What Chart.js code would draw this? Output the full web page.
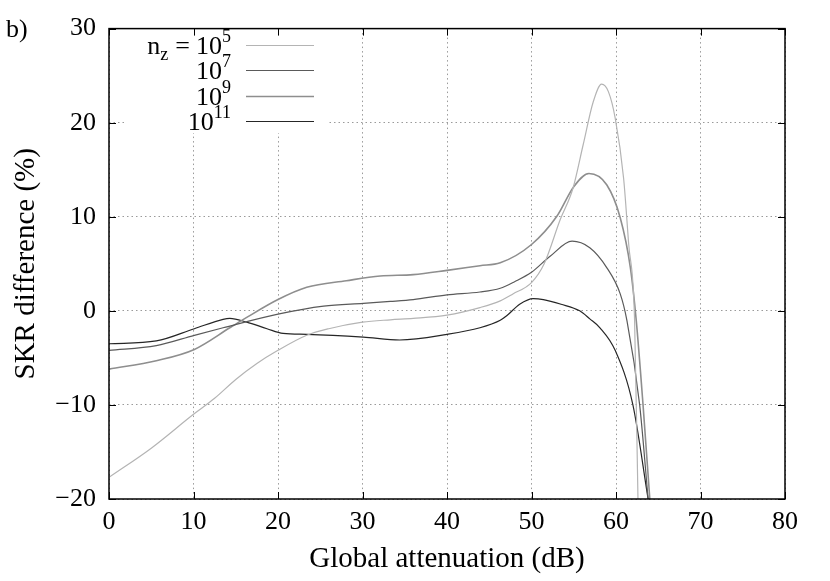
<!DOCTYPE html>
<html>
<head>
<meta charset="utf-8">
<script src="https://cdn.jsdelivr.net/npm/chart.js@4.4.1/dist/chart.umd.min.js"></script>
<style>
  html, body { margin: 0; padding: 0; background: #fff; }
</style>
</head>
<body>
<canvas id="chart" width="830" height="581"></canvas>
<script>
// attenuation (dB) / SKR difference (%) for each n_z
const xs5  = [0, 5, 10, 12.5, 15, 17.5, 20, 23.4, 26, 30, 33.3, 36, 40, 43.9, 46.3, 47.8, 50, 51.5, 53.4, 54.9, 56.1, 57.3, 58.3, 59.1, 59.9, 60.9, 61.5, 62.2, 62.6];
const ys5  = [-17.7, -14.6, -11.0, -9.3, -7.3, -5.6, -4.2, -2.6, -1.9, -1.2, -0.95, -0.8, -0.45, 0.35, 1.06, 1.8, 3.0, 5.0, 9.7, 13.0, 17.6, 22.2, 24.1, 23.3, 20.5, 14.1, 7.1, -1.0, -20];
const xs7  = [0, 5.6, 10.1, 13.5, 20, 25.4, 30.1, 33.3, 36, 40, 43.9, 46.3, 48, 50, 52.2, 54.8, 56.9, 58.9, 60.5, 61.3, 62.8, 63.8];
const ys7  = [-4.2, -3.7, -2.6, -1.8, -0.35, 0.5, 0.8, 1.0, 1.2, 1.7, 2.0, 2.4, 3.1, 4.1, 5.8, 7.4, 6.7, 4.6, 1.8, -1.06, -10, -20];
const xs9  = [0, 5.6, 10.1, 14.3, 16.3, 20, 23.4, 28.1, 32.1, 36, 40, 43.9, 46.3, 50, 53, 55, 56.8, 58.9, 60.5, 61.7, 62.4, 63.2, 64];
const ys9  = [-6.2, -5.3, -4.1, -1.8, -0.7, 1.2, 2.5, 3.2, 3.7, 3.85, 4.3, 4.8, 5.1, 7.05, 10.05, 13.2, 14.6, 13.4, 9.9, 4.6, -1.06, -10, -20];
const xs11 = [0, 5.6, 10.1, 13.5, 14.3, 16.3, 18.7, 20.6, 23.4, 30.1, 34.4, 40, 43.9, 46.3, 47.1, 48.6, 50.2, 51.4, 53.5, 55.7, 56.9, 58.1, 59.9, 62, 63.8];
const ys11 = [-3.5, -3.2, -1.9, -0.9, -0.8, -1.2, -1.9, -2.4, -2.5, -2.8, -3.1, -2.5, -1.8, -1.0, -0.5, 0.7, 1.3, 1.2, 0.7, 0, -0.85, -1.8, -4.2, -10, -20];

const legendExps = ['5', '7', '9', '11'];
const xTickValues = [0, 10, 20, 30, 40, 50, 60, 70, 80];
const yTickValues = [-20, -10, 0, 10, 20, 30];

const serif = '"Liberation Serif", "DejaVu Serif", serif';

const toPoints = (xs, ys) => xs.map((x, i) => ({ x: x, y: ys[i] }));

const series = [
    { exp: legendExps[0], data: toPoints(xs5, ys5),   color: '#b4b4b4', width: 1.2 },
    { exp: legendExps[1], data: toPoints(xs7, ys7),   color: '#5a5a5a', width: 1.2 },
    { exp: legendExps[2], data: toPoints(xs9, ys9),   color: '#8e8e8e', width: 1.6 },
    { exp: legendExps[3], data: toPoints(xs11, ys11), color: '#262626', width: 1.2 }
];

// frame, inward ticks, "b)" and the legend
const decorPlugin = {
    id: 'decor',
    beforeDatasetsDraw(chart) {
        const ctx = chart.ctx;
        ctx.save();
        ctx.fillStyle = '#fff';
        ctx.fillRect(126, 27, 202, 106);
        ctx.restore();
    },
    afterDatasetsDraw(chart) {
        const { ctx, chartArea: a, scales: { x, y } } = chart;
        ctx.save();
        ctx.strokeStyle = '#000';
        ctx.lineWidth = 1;
        const seg = (x1, y1, x2, y2) => { ctx.beginPath(); ctx.moveTo(x1, y1); ctx.lineTo(x2, y2); ctx.stroke(); };
        xTickValues.forEach(v => {
            const px = Math.round(x.getPixelForValue(v)) + 0.5;
            seg(px, a.bottom, px, a.bottom - 7);
            seg(px, a.top, px, a.top + 7);
        });
        yTickValues.forEach(v => {
            const py = Math.round(y.getPixelForValue(v)) + 0.5;
            seg(a.left, py, a.left + 7, py);
            seg(a.right, py, a.right - 7, py);
        });
        ctx.lineWidth = 1.5;
        ctx.strokeRect(a.left, a.top, a.right - a.left, a.bottom - a.top);

        // panel label
        ctx.fillStyle = '#000';
        ctx.font = '26px ' + serif;
        ctx.textBaseline = 'alphabetic';
        ctx.textAlign = 'left';
        ctx.fillText('b)', 6, 37);

        // legend
        const rightX = 231;
        const rowY = [45, 70, 96, 121];
        series.forEach((s, i) => {
            const base = rowY[i] + 9;
            ctx.font = '18px ' + serif;
            const supW = ctx.measureText(s.exp).width;
            ctx.textAlign = 'right';
            ctx.fillText(s.exp, rightX, base - 12);
            ctx.font = '26px ' + serif;
            const tenW = ctx.measureText('10').width;
            ctx.fillText('10', rightX - supW, base);
            if (i === 0) {
                const eqRight = rightX - supW - tenW - 6;
                ctx.fillText('=', eqRight, base);
                const eqW = ctx.measureText('=').width;
                ctx.font = '18px ' + serif;
                const zRight = eqRight - eqW - 7;
                ctx.fillText('z', zRight, base + 6);
                const zW = ctx.measureText('z').width;
                ctx.font = '26px ' + serif;
                ctx.fillText('n', zRight - zW, base);
            }
            ctx.strokeStyle = s.color;
            ctx.lineWidth = s.width;
            seg(246, rowY[i] + 0.5, 314, rowY[i] + 0.5);
        });
        ctx.restore();
    }
};

new Chart(document.getElementById('chart'), {
    type: 'line',
    data: {
        datasets: series.map(s => ({
            label: 'n_z = 10^' + s.exp,
            data: s.data,
            borderColor: s.color,
            borderWidth: s.width,
            pointRadius: 0,
            fill: false,
            cubicInterpolationMode: 'monotone'
        }))
    },
    options: {
        responsive: false,
        animation: false,
        devicePixelRatio: 1,
        layout: { padding: { left: 0, top: 26, right: 45, bottom: 0 } },
        plugins: { legend: { display: false }, tooltip: { enabled: false } },
        scales: {
            x: {
                type: 'linear',
                min: 0,
                max: 80,
                afterBuildTicks: s => { s.ticks = xTickValues.map(v => ({ value: v })); },
                afterFit: s => { s.height = 82; },
                ticks: { color: '#000', font: { family: serif, size: 26 }, padding: 8, maxRotation: 0 },
                grid: { color: '#9a9a9a', lineWidth: 1, drawTicks: false },
                border: { display: false, dash: [1.5, 3] },
                title: { display: true, text: 'Global attenuation (dB)', color: '#000', font: { family: serif, size: 29 }, padding: { top: 0, bottom: 4 } }
            },
            y: {
                type: 'linear',
                min: -20,
                max: 30,
                afterBuildTicks: s => { s.ticks = yTickValues.map(v => ({ value: v })); },
                afterFit: s => { s.width = 109; },
                ticks: {
                    color: '#000', font: { family: serif, size: 26 }, padding: 13,
                    callback: v => String(v).replace('-', '\u2212')
                },
                grid: { color: '#9a9a9a', lineWidth: 1, drawTicks: false },
                border: { display: false, dash: [1.5, 3] },
                title: { display: true, text: 'SKR difference (%)', color: '#000', font: { family: serif, size: 29 }, padding: { top: 9, bottom: 0 } }
            }
        }
    },
    plugins: [decorPlugin]
});
</script>
</body>
</html>
